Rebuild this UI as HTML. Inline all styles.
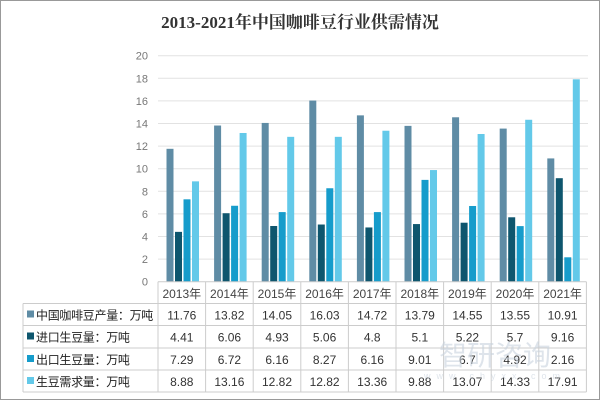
<!DOCTYPE html><html><head><meta charset="utf-8"><style>
body{margin:0;width:600px;height:400px;background:#fff;overflow:hidden;font-family:"Liberation Sans","Noto Sans CJK SC",sans-serif}
</style></head><body>
<svg width="600" height="400" xmlns="http://www.w3.org/2000/svg" font-family="Liberation Sans, Noto Sans CJK SC, sans-serif">
<rect x="0.5" y="0.5" width="599" height="399" fill="#fff" stroke="#999"/>
<text x="300" y="28" text-anchor="middle" font-size="17" font-weight="bold" font-family="Liberation Serif, Noto Serif CJK SC, serif" fill="#333">2013-2021年中国咖啡豆行业供需情况</text>
<g id="g"></g>
</svg>
<script>
var g=document.getElementById('g'),s='';
var L=158,cw=47.6,y0=281.7,k=11.3;
for(var i=0;i<=10;i++){var y=y0-i*2*k;
 if(i>0)s+='<line x1="'+L+'" x2="588" y1="'+y+'" y2="'+y+'" stroke="#e2e2e2"/>';
 s+='<text x="148" y="'+(y+4)+'" text-anchor="end" font-size="11" fill="#777">'+(i*2)+'</text>';}
var d=[[11.76,13.82,14.05,16.03,14.72,13.79,14.55,13.55,10.91],[4.41,6.06,4.93,5.06,4.8,5.1,5.22,5.7,9.16],[7.29,6.72,6.16,8.27,6.16,9.01,6.7,4.92,2.16],[8.88,13.16,12.82,12.82,13.36,9.88,13.07,14.33,17.91]];
var c=['#5f8ca5','#0e566e','#169ccb','#63c9e9'];
var n=['中国咖啡豆产量：万吨','进口生豆量：万吨','出口生豆量：万吨','生豆需求量：万吨'];
for(var j=0;j<9;j++)for(var r=0;r<4;r++){var h=d[r][j]*k;s+='<rect x="'+(L+j*cw+8.5+r*8.5)+'" y="'+(y0-h)+'" width="7" height="'+h+'" fill="'+c[r]+'"/>';}
var R=L+9*cw,rows=[281.7,303.5,325.5,348,370,392];
s+='<line x1="'+L+'" x2="'+R+'" y1="281.7" y2="281.7" stroke="#ccc"/>';
for(var q=1;q<6;q++)s+='<line x1="23" x2="'+R+'" y1="'+rows[q]+'" y2="'+rows[q]+'" stroke="#ccc"/>';
s+='<line x1="23" x2="23" y1="303.5" y2="392" stroke="#ccc"/>';
for(var j=0;j<=9;j++){var x=L+j*cw;s+='<line x1="'+x+'" x2="'+x+'" y1="281.7" y2="392" stroke="#ccc"/>';}
for(var j=0;j<9;j++){var cx=L+j*cw+cw/2;s+='<text x="'+cx+'" y="298" text-anchor="middle" font-size="12" fill="#444">'+(2013+j)+'年</text>';
 for(var r=0;r<4;r++)s+='<text x="'+cx+'" y="'+(rows[r+1]+16)+'" text-anchor="middle" font-size="12" fill="#333">'+d[r][j]+'</text>';}
for(var r=0;r<4;r++){s+='<rect x="27" y="'+(rows[r+1]+7)+'" width="7" height="7" fill="'+c[r]+'"/>';
 s+='<text x="36" y="'+(rows[r+1]+16)+'" font-size="12" letter-spacing="-0.3" fill="#222">'+n[r]+'</text>';}
s+='<text x="495" y="365" text-anchor="middle" font-size="28" fill="#c9d3de" opacity="0.6">智研咨询</text>';
s+='<text x="495" y="379" text-anchor="middle" font-size="9" letter-spacing="6" fill="#c9d3de" opacity="0.6">www.chyxx.com</text>';
g.innerHTML=s;
</script>
</body></html>
